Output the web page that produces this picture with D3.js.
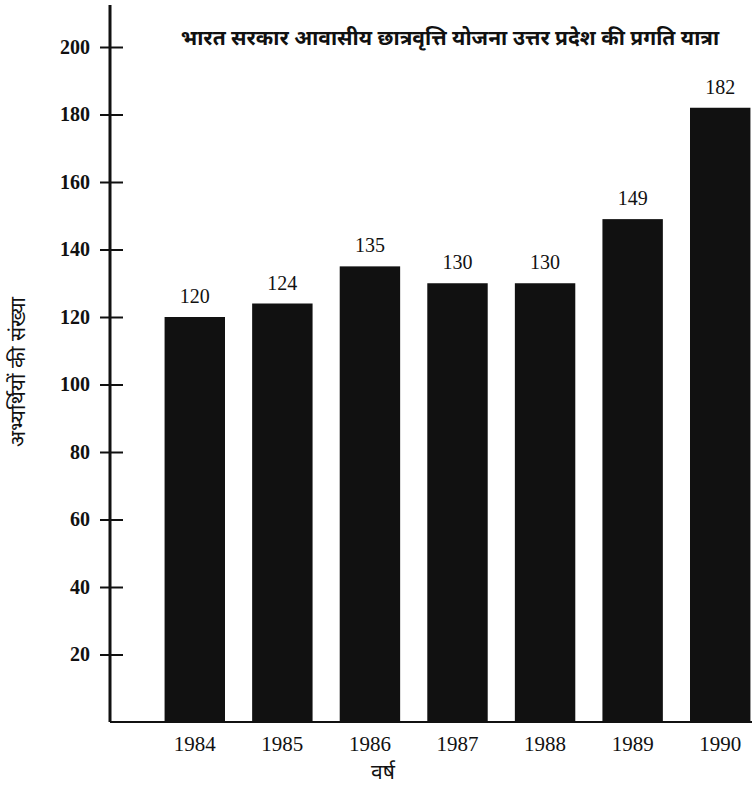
<!DOCTYPE html>
<html>
<head>
    <meta http-equiv="Content-Type" content="text/html;charset=utf-8">
    <title>भारत सरकार आवासीय छात्रवृत्ति योजना</title>
    <script type="text/javascript" src="https://d3js.org/d3.v7.min.js"></script>
    <style>
        * { margin: 0; padding: 0; box-sizing: border-box; }
        html, body { width: 752px; height: 787px; background: #fff; overflow: hidden; }
        text.num { font-family: "Liberation Serif", "DejaVu Serif", serif; fill: #111; }
        text.hindi { font-family: "Noto Sans Devanagari", "Noto Sans", "Lohit Devanagari", sans-serif; fill: #111; }
    </style>
</head>
<body>
    <script type="text/javascript">
        var years = ["1984", "1985", "1986", "1987", "1988", "1989", "1990"];
        var counts = [120, 124, 135, 130, 130, 149, 182];
        var yTicks = [20, 40, 60, 80, 100, 120, 140, 160, 180, 200];
        var title = "भारत सरकार आवासीय छात्रवृत्ति योजना उत्तर प्रदेश की प्रगति यात्रा";
        var yTitle = "अभ्यर्थियों की संख्या";
        var xTitle = "वर्ष";

        var width = 752, height = 787;
        var axisX = 110, baseY = 722;
        var serif = "'Liberation Serif', 'DejaVu Serif', serif";

        var svg = d3.select("body").append("svg")
            .attr("width", width).attr("height", height);

        var x = d3.scaleBand()
            .domain(years)
            .range([151, 764])
            .paddingInner(0.31)
            .paddingOuter(0.155);

        var y = d3.scaleLinear()
            .domain([0, 200])
            .range([baseY, 47]);

        // base line
        svg.append("line")
            .attr("x1", axisX).attr("x2", width)
            .attr("y1", baseY).attr("y2", baseY)
            .attr("stroke", "#111").attr("stroke-width", 2);

        // bars
        svg.selectAll("rect.bar")
            .data(counts)
            .enter().append("rect")
            .attr("class", "bar")
            .attr("x", function (d, i) { return x(years[i]); })
            .attr("y", function (d) { return y(d); })
            .attr("width", x.bandwidth())
            .attr("height", function (d) { return baseY - y(d); })
            .attr("fill", "#111");

        // value labels
        svg.selectAll("text.val")
            .data(counts)
            .enter().append("text")
            .attr("class", "num val")
            .attr("x", function (d, i) { return x(years[i]) + x.bandwidth() / 2; })
            .attr("y", function (d) { return y(d) - 14; })
            .attr("text-anchor", "middle")
            .attr("font-size", 20)
            .text(function (d) { return d; });

        // y axis
        var yAxis = d3.axisLeft(y)
            .tickValues(yTicks)
            .tickSize(0)
            .tickPadding(20);
        var gy = svg.append("g")
            .attr("class", "axis y")
            .attr("transform", "translate(" + axisX + ",0)")
            .call(yAxis)
            .attr("font-family", serif);
        gy.select(".domain").remove();
        gy.selectAll(".tick text")
            .attr("font-size", 20)
            .attr("font-weight", "bold")
            .attr("fill", "#111");
        gy.selectAll(".tick").append("line")
            .attr("x1", -10).attr("x2", 13)
            .attr("stroke", "#111").attr("stroke-width", 2);
        gy.append("line")
            .attr("x1", 0).attr("x2", 0)
            .attr("y1", 5).attr("y2", baseY)
            .attr("stroke", "#111").attr("stroke-width", 3);

        // x axis labels
        var xAxis = d3.axisBottom(x).tickSize(0).tickPadding(14);
        var gx = svg.append("g")
            .attr("class", "axis x")
            .attr("transform", "translate(0," + baseY + ")")
            .call(xAxis)
            .attr("font-family", serif);
        gx.select(".domain").remove();
        gx.selectAll(".tick text")
            .attr("font-size", 21)
            .attr("fill", "#111");

        // titles
        svg.append("text")
            .attr("class", "hindi")
            .attr("x", 450).attr("y", 45)
            .attr("text-anchor", "middle")
            .attr("font-size", 21)
            .attr("font-weight", "bold")
            .text(title);

        svg.append("text")
            .attr("class", "hindi")
            .attr("transform", "translate(25,372) rotate(-90)")
            .attr("text-anchor", "middle")
            .attr("font-size", 21)
            .text(yTitle);

        svg.append("text")
            .attr("class", "hindi")
            .attr("x", 383).attr("y", 779)
            .attr("text-anchor", "middle")
            .attr("font-size", 21)
            .text(xTitle);
    </script>
</body>
</html>
